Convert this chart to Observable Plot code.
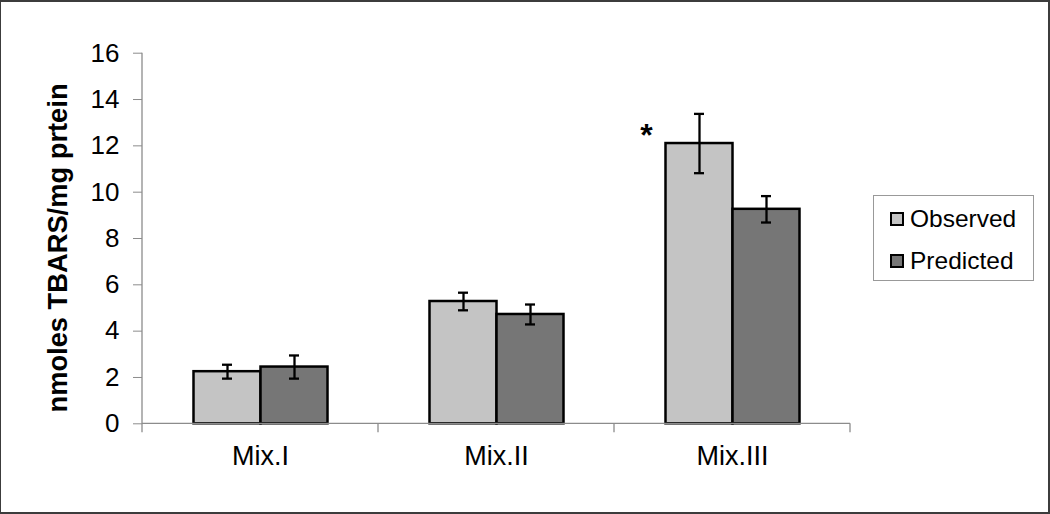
<!DOCTYPE html>
<html><head><meta charset="utf-8">
<script src="https://cdn.jsdelivr.net/npm/d3@7"></script>
<script src="https://cdn.jsdelivr.net/npm/@observablehq/plot@0.6"></script>
<style>
html,body{margin:0;padding:0;background:#fff;}
#wrap{position:relative;width:1050px;height:514px;overflow:hidden;font-family:"Liberation Sans",Arial,sans-serif;}
#chart svg{display:block;}
#border{position:absolute;left:0;top:0;width:1050px;height:514px;box-sizing:border-box;border:2px solid #3c3c3c;border-left-width:1px;pointer-events:none;}
#legend{position:absolute;left:873px;top:195px;width:161px;height:86px;box-sizing:border-box;border:1px solid #999;background:#fff;}
.row{position:absolute;left:16px;height:28px;line-height:28px;display:flex;align-items:center;font-size:24.5px;color:#000;}
.sw{width:10px;height:10px;border:2px solid #000;margin-right:6px;}
</style></head><body>
<div id="wrap"><div id="chart"></div><div id="legend"></div><div id="border"></div></div>
<script>
const categories = ["Mix.I", "Mix.II", "Mix.III"];
const series = ["Observed", "Predicted"];
const observed = [2.25, 5.28, 12.1];
const observedErr = [0.3, 0.38, 1.28];
const predicted = [2.45, 4.72, 9.26];
const predictedErr = [0.5, 0.43, 0.57];
const yTicks = [0, 2, 4, 6, 8, 10, 12, 14, 16];
const yLabel = "nmoles TBARS/mg prtein";
const colors = ["#c4c4c4", "#767676"];
const significant = ["Mix.III"];

const data = [];
categories.forEach((c, i) => {
  data.push({cat: c, series: "Observed", value: observed[i], err: observedErr[i]});
  data.push({cat: c, series: "Predicted", value: predicted[i], err: predictedErr[i]});
});

function axisLines(index, scales, values, dim) {
  const g = d3.create("svg:g");
  const x0 = dim.marginLeft, x1 = dim.width - dim.marginRight;
  const yTopV = yTicks[yTicks.length - 1];
  const y0 = scales.y ? scales.y(0) : dim.height - dim.marginBottom;
  const yTop = scales.y ? scales.y(yTopV) : dim.marginTop;
  const lines = g.append("g").attr("stroke", "#8c8c8c").attr("stroke-width", 1.3);
  lines.append("line").attr("x1", x0).attr("x2", x1).attr("y1", y0).attr("y2", y0);
  lines.append("line").attr("x1", x0).attr("x2", x0).attr("y1", yTop).attr("y2", y0 + 9);
  const bw = (x1 - x0) / categories.length;
  categories.forEach((c, i) => {
    const xe = x0 + (i + 1) * bw;
    lines.append("line").attr("x1", xe).attr("x2", xe).attr("y1", y0).attr("y2", y0 + 9);
  });
  g.append("text")
    .attr("transform", `translate(${dim.marginLeft - 85},${(y0 + yTop) / 2 + 10}) rotate(-90)`)
    .attr("text-anchor", "middle")
    .attr("dy", "0.35em")
    .attr("font-size", 27.3)
    .attr("font-weight", "bold")
    .attr("fill", "#000")
    .text(yLabel);
  return g.node();
}

const chart = Plot.plot({
  width: 1050,
  height: 514,
  marginLeft: 141.5,
  marginRight: 200,
  marginTop: 52.7,
  marginBottom: 90.7,
  style: {fontFamily: "Liberation Sans, Arial, sans-serif", background: "transparent", color: "#000"},
  fx: {domain: categories, paddingInner: 0, paddingOuter: 0},
  x: {domain: series, paddingInner: 0, paddingOuter: 0.737, axis: null},
  y: {domain: [0, 16]},
  color: {domain: series, range: colors},
  marks: [
    Plot.barY(data, {fx: "cat", x: "series", y: "value", fill: "series", stroke: "#000", strokeWidth: 2.5}),
    Plot.ruleX(data, {fx: "cat", x: "series", y1: d => d.value - d.err, y2: d => d.value + d.err, stroke: "#000", strokeWidth: 2.3}),
    Plot.tickY(data, {fx: "cat", x: "series", y: d => d.value - d.err, stroke: "#000", strokeWidth: 2.3, insetLeft: 28.5, insetRight: 28.5}),
    Plot.tickY(data, {fx: "cat", x: "series", y: d => d.value + d.err, stroke: "#000", strokeWidth: 2.3, insetLeft: 28.5, insetRight: 28.5}),
    Plot.text(data.filter(d => d.series === "Observed" && significant.includes(d.cat)),
      {fx: "cat", x: "series", y: "value", text: () => "*", dx: -53, dy: -8, fontSize: 32, fontWeight: "bold", fill: "#000"}),
    Plot.axisY({ticks: yTicks, tickSize: 9, tickPadding: 14, fontSize: 26, label: null, stroke: "#8c8c8c", fill: "#000"}),
    Plot.axisFx({anchor: "bottom", tickSize: 0, tickPadding: 22, fontSize: 27, label: null, fill: "#000"}),
    Plot.frame({facet: "super", stroke: "none", render: (index, scales, values, dim) => axisLines(index, scales, values, dim)})
  ]
});
document.getElementById("chart").appendChild(chart);

const legend = document.getElementById("legend");
series.forEach((s, i) => {
  const row = document.createElement("div");
  row.className = "row";
  row.style.top = (9 + i * 42) + "px";
  const sw = document.createElement("div");
  sw.className = "sw";
  sw.style.background = colors[i];
  row.appendChild(sw);
  row.appendChild(document.createTextNode(s));
  legend.appendChild(row);
});
</script>
</body></html>
